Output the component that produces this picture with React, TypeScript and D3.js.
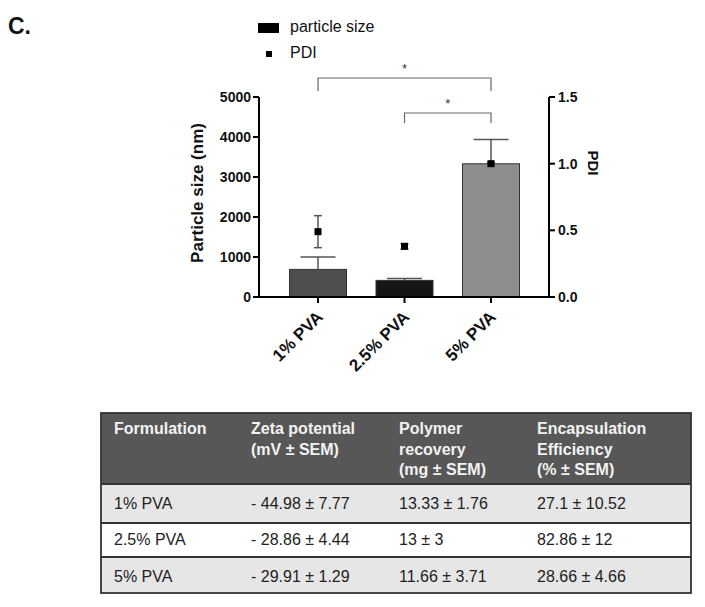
import React from "react";
import * as d3 from "d3";

const categories = ["1% PVA", "2.5% PVA", "5% PVA"];
const sizeMean = [690, 415, 3330];
const sizeSem = [310, 45, 610];
const pdiMean = [0.49, 0.38, 1.0];
const pdiSem = [0.12, 0.02, 0.01];
const barColors = ["#4e4e4e", "#151515", "#8e8e8e"];
const leftTicks = [0, 1000, 2000, 3000, 4000, 5000];
const rightTicks = [0, 0.5, 1.0, 1.5];
const sigPairs: [number, number][] = [[0, 2], [1, 2]];

const tableHeader = [
  ["Formulation"],
  ["Zeta potential", "(mV ± SEM)"],
  ["Polymer", "recovery", "(mg ± SEM)"],
  ["Encapsulation", "Efficiency", "(% ± SEM)"],
];
const tableRows = [
  ["1% PVA", "- 44.98 ± 7.77", "13.33 ± 1.76", "27.1 ± 10.52"],
  ["2.5% PVA", "- 28.86 ± 4.44", "13 ± 3", "82.86 ± 12"],
  ["5% PVA", "- 29.91 ± 1.29", "11.66 ± 3.71", "28.66 ± 4.66"],
];

const FONT = "Arial, 'Liberation Sans', Helvetica, sans-serif";

export default function App() {
  const x = d3.scalePoint<string>().domain(categories).range([259, 550]).padding(0.682);
  const yL = d3.scaleLinear().domain([0, 5000]).range([297, 97]);
  const yR = d3.scaleLinear().domain([0, 1.5]).range([297, 97]);
  const barW = 57;
  const capW = 35;
  const pdiCap = 8;
  const axisX0 = 259;
  const axisX1 = 549;

  const colX = [114, 251, 399, 537];
  const tblL = 101, tblR = 691;
  const rowEdges = [413, 484, 523, 557, 593];
  const rowFill = ["#e6e6e6", "#ffffff", "#e6e6e6"];
  const rowBase = [509, 545, 582];

  const bracketY = [78, 113];
  const bracketDrop = [13, 10];

  return (
    <div style={{ position: "absolute", left: 0, top: 0 }}>
      <svg width={705} height={607} style={{ display: "block", fontFamily: FONT }}>
        <rect width={705} height={607} fill="#fff" />
        <text x={8} y={34} fontSize={23} fontWeight="bold" fill="#111">C.</text>

        {/* legend */}
        <rect x={258} y={23} width={21} height={10} fill="#000" />
        <text x={290} y={32} fontSize={16} fill="#111">particle size</text>
        <rect x={266} y={51} width={6} height={6} fill="#000" />
        <text x={290} y={58} fontSize={16} fill="#111">PDI</text>

        {/* bars */}
        {categories.map((c, i) => (
          <rect key={c} x={x(c)! - barW / 2} y={yL(sizeMean[i])} width={barW}
            height={yL(0) - yL(sizeMean[i])} fill={barColors[i]} stroke="#333" strokeWidth={1} />
        ))}
        {/* bar error bars */}
        {categories.map((c, i) => {
          const cx = x(c)!;
          const top = yL(sizeMean[i] + sizeSem[i]);
          return (
            <g key={"e" + c} stroke="#555" strokeWidth={1.5}>
              <line x1={cx} x2={cx} y1={yL(sizeMean[i])} y2={top} />
              <line x1={cx - capW / 2} x2={cx + capW / 2} y1={top} y2={top} />
            </g>
          );
        })}
        {/* PDI points */}
        {categories.map((c, i) => {
          const cx = x(c)!;
          const t = yR(pdiMean[i] + pdiSem[i]);
          const b = yR(pdiMean[i] - pdiSem[i]);
          return (
            <g key={"p" + c}>
              <g stroke="#555" strokeWidth={1.5}>
                <line x1={cx} x2={cx} y1={t} y2={b} />
                <line x1={cx - pdiCap / 2} x2={cx + pdiCap / 2} y1={t} y2={t} />
                <line x1={cx - pdiCap / 2} x2={cx + pdiCap / 2} y1={b} y2={b} />
              </g>
              <rect x={cx - 3.5} y={yR(pdiMean[i]) - 3.5} width={7} height={7} fill="#000" />
            </g>
          );
        })}

        {/* axes */}
        <g stroke="#000" strokeWidth={2} fill="none">
          <line x1={axisX0} x2={axisX0} y1={yL(5000)} y2={yL(0)} />
          <line x1={axisX1} x2={axisX1} y1={yR(1.5)} y2={yR(0)} />
          <line x1={axisX0} x2={axisX1 + 1} y1={yL(0)} y2={yL(0)} />
          {leftTicks.map((t) => (
            <line key={"lt" + t} x1={axisX0 - 6} x2={axisX0} y1={yL(t)} y2={yL(t)} />
          ))}
          {rightTicks.map((t) => (
            <line key={"rt" + t} x1={axisX1} x2={axisX1 + 6} y1={yR(t)} y2={yR(t)} />
          ))}
          {categories.map((c) => (
            <line key={"xt" + c} x1={x(c)!} x2={x(c)!} y1={yL(0)} y2={yL(0) + 6} />
          ))}
        </g>
        {leftTicks.map((t) => (
          <text key={"ll" + t} x={251} y={yL(t)} dy="0.35em" textAnchor="end" fontSize={14} fontWeight="bold" fill="#111">{t}</text>
        ))}
        {rightTicks.map((t) => (
          <text key={"rl" + t} x={558} y={yR(t)} dy="0.35em" fontSize={14} fontWeight="bold" fill="#111">{d3.format(".1f")(t)}</text>
        ))}
        {categories.map((c) => (
          <text key={"cl" + c} transform={`translate(${x(c)! + 6},${318}) rotate(-45)`} textAnchor="end"
            fontSize={17} fontWeight="bold" fill="#111">{c}</text>
        ))}
        <text transform="translate(203,193) rotate(-90)" textAnchor="middle" fontSize={17} fontWeight="bold" fill="#111">Particle size (nm)</text>
        <text transform="translate(588,163) rotate(90)" textAnchor="middle" fontSize={15} fontWeight="bold" fill="#111">PDI</text>

        {/* significance brackets */}
        {sigPairs.map(([a, b], k) => {
          const xa = x(categories[a])!;
          const xb = x(categories[b])!;
          const yy = bracketY[k];
          return (
            <g key={"s" + k}>
              <path d={`M${xa},${yy + bracketDrop[k]}V${yy}H${xb}V${yy + bracketDrop[k]}`} fill="none" stroke="#666" strokeWidth={1.2} />
              <text x={(xa + xb) / 2} y={yy - 5} textAnchor="middle" fontSize={13} fill="#333">*</text>
            </g>
          );
        })}

        {/* table */}
        <rect x={tblL} y={rowEdges[0]} width={tblR - tblL} height={rowEdges[1] - rowEdges[0]} fill="#575757" />
        {tableRows.map((r, i) => (
          <rect key={"rb" + i} x={tblL} y={rowEdges[i + 1]} width={tblR - tblL} height={rowEdges[i + 2] - rowEdges[i + 1]} fill={rowFill[i]} />
        ))}
        <g stroke="#333" strokeWidth={1.8} fill="none">
          <rect x={tblL} y={rowEdges[0]} width={tblR - tblL} height={rowEdges[4] - rowEdges[0]} />
          {rowEdges.slice(1, 4).map((e) => (
            <line key={"re" + e} x1={tblL} x2={tblR} y1={e} y2={e} />
          ))}
        </g>
        {tableHeader.map((lines, j) => (
          <text key={"th" + j} x={colX[j]} y={434} fontSize={16} fontWeight="bold" fill="#f2f2f2">
            {lines.map((l, k) => (
              <tspan key={k} x={colX[j]} y={434 + k * 20.5}>{l}</tspan>
            ))}
          </text>
        ))}
        {tableRows.map((r, i) =>
          r.map((cell, j) => (
            <text key={"td" + i + j} x={colX[j]} y={rowBase[i]} fontSize={16} fill="#222">{cell}</text>
          ))
        )}
      </svg>
    </div>
  );
}
